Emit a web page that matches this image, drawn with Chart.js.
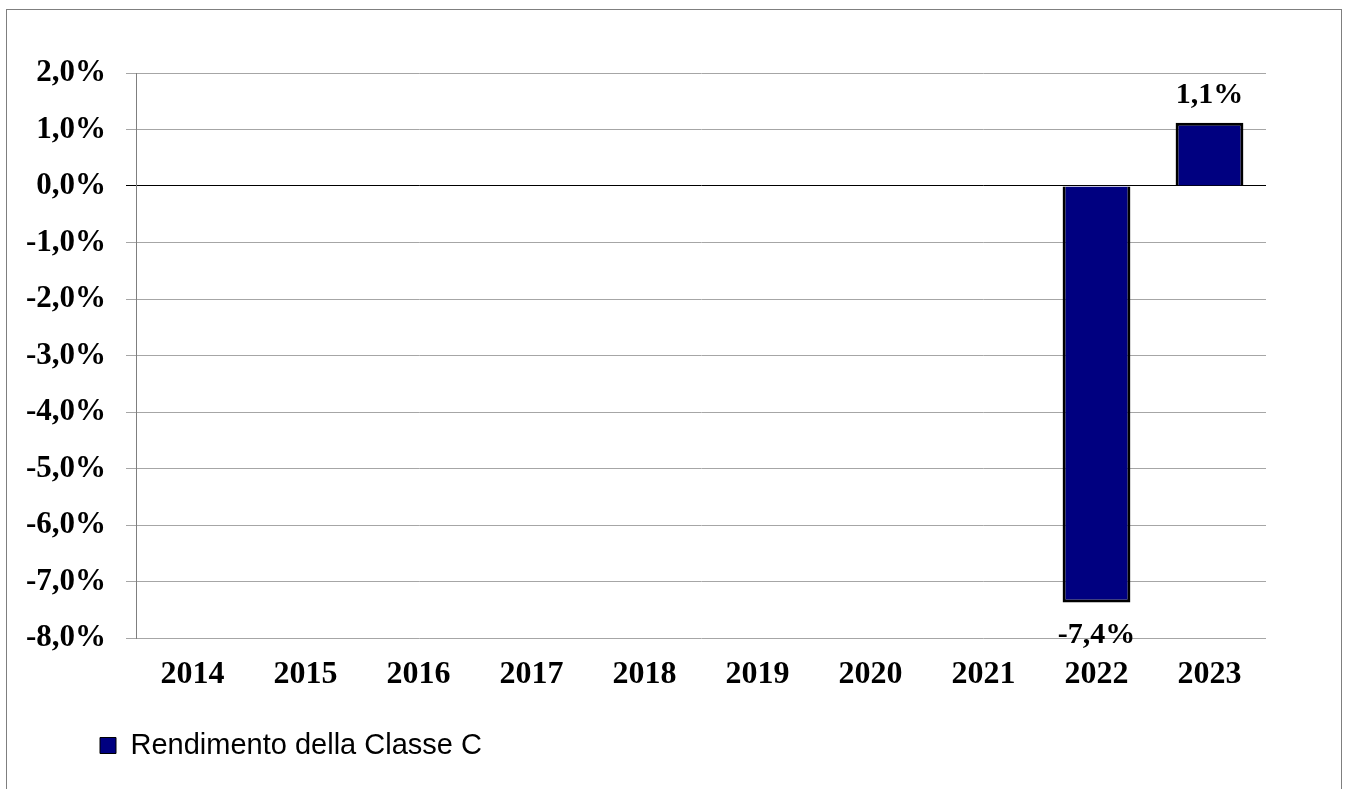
<!DOCTYPE html>
<html>
<head>
<meta charset="utf-8">
<script src="https://cdn.jsdelivr.net/npm/chart.js@4.4.1/dist/chart.umd.min.js"></script>
<style>
	html, body { margin:0; padding:0; background:#fff; }
	#frame { position:absolute; left:6px; top:9px; width:1334px; height:800px; border:1px solid #7f7f7f; }
	#chart { position:absolute; left:0; top:0; }
</style>
</head>
<body>
<div id="frame"></div>
<canvas id="chart" width="1351" height="789"></canvas>
<script>
	var years = ['2014','2015','2016','2017','2018','2019','2020','2021','2022','2023'];
	var rendimento = [null,null,null,null,null,null,null,null,-7.37,1.12];
	var rendimentoLabels = [null,null,null,null,null,null,null,null,'-7,4%','1,1%'];
	var serieName = 'Rendimento della Classe C';
	var yMin = -8, yMax = 2, yStep = 1;

	var serif = '"Liberation Serif", "Times New Roman", serif';

	var fmt = function(v){
		return v.toFixed(1).replace('.', ',') + '%';
	};

	// valori sopra/sotto le barre
	var barLabels = {
		id:'barLabels',
		afterLayout:function(chart){
			// legenda spostata a destra, sotto l'asse
			if(chart.legend) chart.legend.left = 90;
		},
		afterDatasetsDraw:function(chart){
			var ctx = chart.ctx;
			var meta = chart.getDatasetMeta(0);
			ctx.save();
			ctx.font = 'bold 30px ' + serif;
			ctx.fillStyle = '#000';
			ctx.textAlign = 'center';
			ctx.textBaseline = 'alphabetic';
			meta.data.forEach(function(bar, i){
				var v = rendimento[i];
				if(v === null) return;
				var y = v >= 0 ? bar.y - 20 : bar.y + 41;
				ctx.fillText(rendimentoLabels[i], bar.x, y);
			});
			ctx.restore();
		}
	};

	var ctx = document.getElementById('chart').getContext('2d');
	new Chart(ctx, {
		type:'bar',
		data:{
			labels: years,
			datasets:[{
				label: serieName,
				data: rendimento,
				backgroundColor:'#000080',
				borderColor:'#000',
				borderWidth:3,
				barPercentage:0.6,
				categoryPercentage:1
			}]
		},
		options:{
			responsive:false,
			animation:false,
			layout:{ padding:{ left:10, right:85, top:73, bottom:19 } },
			plugins:{
				tooltip:{ enabled:false },
				legend:{
					position:'bottom',
					align:'start',
					labels:{
						boxWidth:16,
						boxHeight:16,
						padding:10,
						color:'#000',
						font:{ family:'"Liberation Sans", Arial, sans-serif', size:29 },
						generateLabels:function(chart){
							return [{
								text: serieName,
								fillStyle:'#000080',
								strokeStyle:'#000',
								lineWidth:1,
								datasetIndex:0
							}];
						}
					}
				}
			},
			scales:{
				x:{
					grid:{ display:false, drawTicks:false },
					border:{ display:false },
					ticks:{ color:'#000', padding:18, font:{ family:serif, size:32, weight:'bold' } },
					afterFit:function(scale){ scale.height = 83; }
				},
				y:{
					min:yMin,
					max:yMax,
					border:{ color:'#7f7f7f', width:1 },
					grid:{
						color:function(c){ return c.tick && c.tick.value === 0 ? '#000' : '#a6a6a6'; },
						tickLength:10,
						lineWidth:1
					},
					ticks:{
						stepSize:yStep,
						padding:20,
						color:'#000',
						font:{ family:serif, size:31, weight:'bold' },
						callback:function(v){ return fmt(v); }
					},
					afterFit:function(scale){ scale.width = 126; }
				}
			}
		},
		plugins:[barLabels]
	});
</script>
</body>
</html>
